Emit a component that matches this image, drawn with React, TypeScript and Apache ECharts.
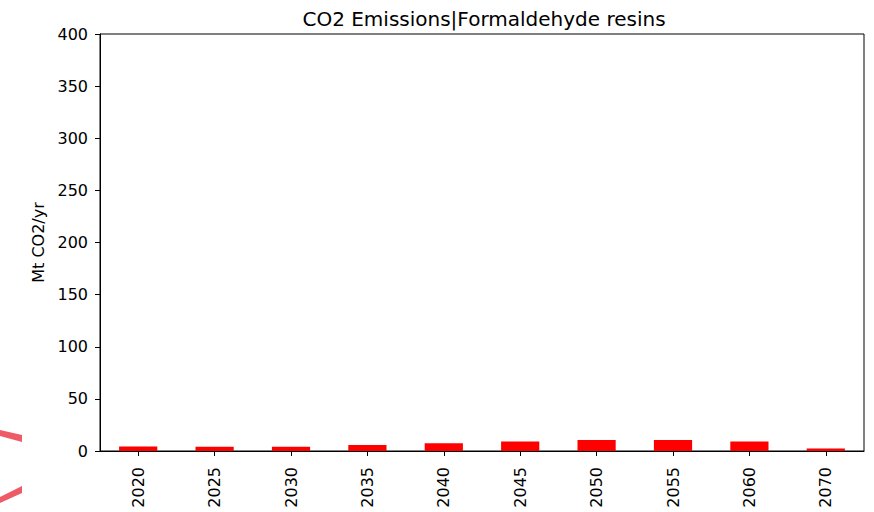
import React, { useEffect, useRef } from "react";
import * as echarts from "echarts";

const years = ["2020", "2025", "2030", "2035", "2040", "2045", "2050", "2055", "2060", "2070"];
const emissions = [4.2, 4.0, 4.0, 5.8, 7.4, 9.0, 10.6, 10.6, 9.0, 2.3];
const yTicks = [0, 50, 100, 150, 200, 250, 300, 350, 400];

export default function App() {
  const ref = useRef<HTMLDivElement>(null);
  useEffect(() => {
    if (!ref.current) return;
    const chart = echarts.init(ref.current, undefined, { renderer: "svg" });
    const font = "DejaVu Sans";
    chart.setOption({
      animation: false,
      title: {
        text: "CO2 Emissions|Formaldehyde resins",
        left: 479,
        top: 4,
        textAlign: "center",
        textStyle: { fontFamily: font, fontSize: 20, fontWeight: "normal", color: "#000" },
      },
      grid: {
        left: 100,
        right: 10,
        top: 34,
        bottom: 61,
        show: true,
        borderColor: "#000",
        borderWidth: 1,
        backgroundColor: "transparent",
      },
      xAxis: {
        type: "category",
        data: years,
        axisLine: { show: true, lineStyle: { color: "#000" } },
        axisTick: { show: true, alignWithLabel: true, length: 5, lineStyle: { color: "#000" } },
        axisLabel: { rotate: 90, fontFamily: font, fontSize: 16, color: "#000", margin: 16 },
      },
      yAxis: {
        type: "value",
        min: yTicks[0],
        max: yTicks[yTicks.length - 1],
        interval: 50,
        name: "Mt CO2/yr",
        nameLocation: "middle",
        nameGap: 54,
        nameTextStyle: { fontFamily: font, fontSize: 16, color: "#000" },
        axisLine: { show: true, lineStyle: { color: "#000" } },
        axisTick: { show: true, length: 5, lineStyle: { color: "#000" } },
        axisLabel: { fontFamily: font, fontSize: 16, color: "#000", margin: 12 },
        splitLine: { show: false },
      },
      series: [
        {
          type: "bar",
          data: emissions,
          barWidth: "50%",
          itemStyle: { color: "#ff0000" },
        },
      ],
      graphic: [
        {
          type: "polygon",
          shape: { points: [[0, 430], [22, 435], [22, 442], [0, 436]] },
          style: { fill: "#ee5a65" },
        },
        {
          type: "polygon",
          shape: { points: [[0, 497], [22, 486], [22, 493], [0, 503]] },
          style: { fill: "#ee5a65" },
        },
      ],
    });
    return () => chart.dispose();
  }, []);
  return <div ref={ref} style={{ width: 874, height: 512, position: "absolute", left: 0, top: 0 }} />;
}
